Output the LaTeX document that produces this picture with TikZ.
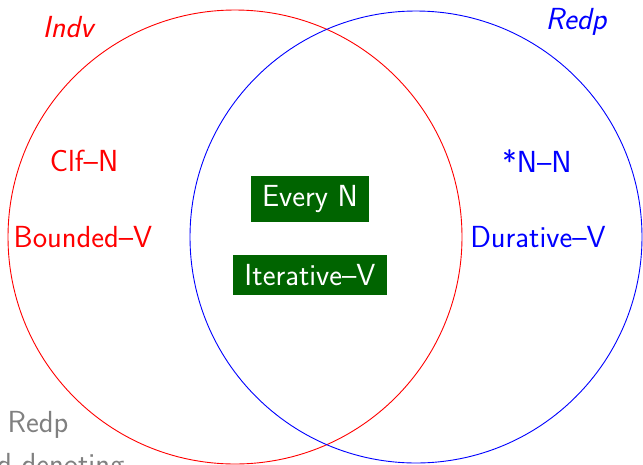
\documentclass[tikz,border=0pt]{standalone}
\usepackage{xcolor}
\definecolor{boxgreen}{RGB}{0,100,0}
\definecolor{labgray}{RGB}{128,128,128}
\tikzset{
  lab/.style={font=\sffamily\fontsize{30.5}{36}\selectfont, inner sep=0pt},
  setname/.style={font=\sffamily\itshape\fontsize{30.5}{36}\selectfont, inner sep=0pt},
  greenbox/.style={font=\sffamily\fontsize{30.5}{36}\selectfont, fill=boxgreen, text=white, inner xsep=11pt, inner ysep=9.5pt},
  ring/.style={line width=0.9pt}
}
\begin{document}
\begin{tikzpicture}[x=1pt,y=-1pt]
\useasboundingbox (0,0) rectangle (643,464);
\draw[ring, red] (235,237) circle[radius=227];
\draw[ring, blue] (416,237) circle[radius=226];
\node[setname, text=red] (indv) at (68,27) {Indv};
\node[setname, text=blue] (redp) at (576,22) {Redp};
\node[lab, text=red] (clf) at (84,161) {Clf--N};
\node[lab, text=red] (bounded) at (83,237) {Bounded--V};
\node[lab, text=blue] (nn) at (537,161) {*N--N};
\node[lab, text=blue] (durative) at (538,237) {Durative--V};
\node[greenbox] (every) at (310,199) {Every N};
\node[greenbox] (iter) at (310,275) {Iterative--V};
\node[lab, text=labgray, anchor=base] (gredp) at (38,432) {Redp};
\node[lab, text=labgray, anchor=base west] (kind) at (-3,474) {d-denoting};
\end{tikzpicture}
\end{document}
